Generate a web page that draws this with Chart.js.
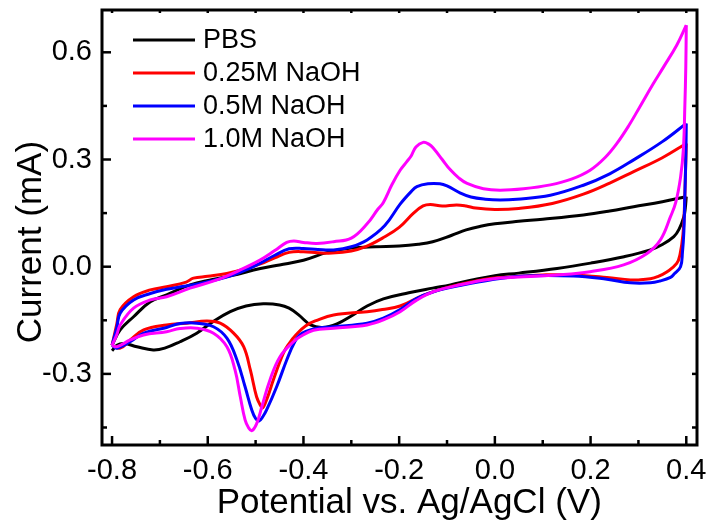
<!DOCTYPE html>
<html>
<head>
<meta charset="utf-8">
<script src="https://cdn.jsdelivr.net/npm/chart.js@4/dist/chart.umd.min.js"></script>
<style>
  html, body { margin: 0; padding: 0; background: #fff; }
  #wrap { width: 710px; height: 526px; }
</style>
</head>
<body>
<div id="wrap"><canvas id="c" width="710" height="526"></canvas></div>
<script>
// ---------- DATA ----------
const seriesLabels = ['PBS', '0.25M NaOH', '0.5M NaOH', '1.0M NaOH'];
const seriesColors = ['#000000', '#ff0000', '#0000ff', '#ff00ff'];
const xTitle = 'Potential vs. Ag/AgCl (V)';
const yTitle = 'Current (mA)';

const xTickValues = [-0.8, -0.6, -0.4, -0.2, 0.0, 0.2, 0.4];
const xMinorTicks = [-0.7, -0.5, -0.3, -0.1, 0.1, 0.3];
const yTickValues = [-0.3, 0.0, 0.3, 0.6];
const yMinorTicks = [-0.45, -0.15, 0.15, 0.45];

// [potential V, current mA] - forward (anodic) scan
const pbsForward = [[-0.80,-0.22],[-0.783,-0.177],[-0.755,-0.14],[-0.72,-0.098],[-0.686,-0.079],[-0.637,-0.051],[-0.59,-0.036],[-0.55,-0.025],[-0.49,-0.005],[-0.45,0.005],[-0.40,0.018],[-0.35,0.04],[-0.30,0.052],[-0.25,0.056],[-0.20,0.058],[-0.16,0.063],[-0.13,0.07],[-0.09,0.088],[-0.06,0.103],[-0.03,0.113],[0.00,0.12],[0.05,0.127],[0.10,0.133],[0.185,0.145],[0.24,0.156],[0.29,0.168],[0.35,0.182],[0.40,0.196]];
// reverse (cathodic) scan
const pbsReverse = [[0.40,0.196],[0.398,0.165],[0.395,0.14],[0.385,0.105],[0.374,0.084],[0.35,0.062],[0.325,0.047],[0.27,0.028],[0.20,0.01],[0.13,-0.005],[0.05,-0.018],[0.0,-0.025],[-0.05,-0.038],[-0.093,-0.051],[-0.13,-0.06],[-0.18,-0.073],[-0.233,-0.09],[-0.267,-0.11],[-0.30,-0.138],[-0.33,-0.16],[-0.36,-0.17],[-0.385,-0.163],[-0.41,-0.135],[-0.43,-0.116],[-0.45,-0.107],[-0.484,-0.104],[-0.52,-0.11],[-0.553,-0.126],[-0.59,-0.155],[-0.623,-0.186],[-0.658,-0.21],[-0.69,-0.228],[-0.714,-0.233],[-0.748,-0.224],[-0.775,-0.215],[-0.79,-0.22],[-0.80,-0.235]];

const redForward = [[-0.80,-0.22],[-0.79,-0.16],[-0.783,-0.12],[-0.755,-0.084],[-0.72,-0.065],[-0.686,-0.056],[-0.645,-0.043],[-0.63,-0.032],[-0.60,-0.027],[-0.56,-0.019],[-0.52,-0.005],[-0.49,0.008],[-0.46,0.025],[-0.43,0.04],[-0.40,0.042],[-0.37,0.039],[-0.34,0.038],[-0.30,0.044],[-0.27,0.056],[-0.235,0.08],[-0.20,0.11],[-0.17,0.15],[-0.15,0.17],[-0.135,0.174],[-0.11,0.17],[-0.08,0.173],[-0.06,0.17],[-0.04,0.164],[0.0,0.16],[0.05,0.163],[0.12,0.177],[0.185,0.203],[0.24,0.234],[0.29,0.266],[0.35,0.305],[0.40,0.345]];
const redReverse = [[0.40,0.345],[0.398,0.25],[0.396,0.16],[0.393,0.09],[0.387,0.035],[0.38,0.009],[0.36,-0.014],[0.34,-0.028],[0.325,-0.034],[0.30,-0.037],[0.283,-0.037],[0.234,-0.03],[0.164,-0.023],[0.10,-0.023],[0.06,-0.026],[-0.01,-0.033],[-0.05,-0.043],[-0.093,-0.056],[-0.15,-0.08],[-0.198,-0.11],[-0.235,-0.12],[-0.267,-0.126],[-0.337,-0.135],[-0.372,-0.15],[-0.395,-0.165],[-0.415,-0.19],[-0.43,-0.215],[-0.442,-0.242],[-0.463,-0.317],[-0.475,-0.365],[-0.485,-0.395],[-0.49,-0.388],[-0.498,-0.364],[-0.511,-0.289],[-0.525,-0.224],[-0.546,-0.186],[-0.574,-0.158],[-0.602,-0.152],[-0.644,-0.158],[-0.686,-0.163],[-0.734,-0.177],[-0.762,-0.205],[-0.783,-0.228],[-0.80,-0.22]];

const blueForward = [[-0.80,-0.22],[-0.79,-0.17],[-0.783,-0.13],[-0.755,-0.093],[-0.72,-0.075],[-0.686,-0.063],[-0.65,-0.055],[-0.616,-0.047],[-0.58,-0.036],[-0.546,-0.023],[-0.51,-0.003],[-0.49,0.01],[-0.46,0.032],[-0.43,0.05],[-0.40,0.051],[-0.37,0.048],[-0.337,0.047],[-0.30,0.056],[-0.267,0.075],[-0.23,0.115],[-0.198,0.175],[-0.175,0.21],[-0.163,0.224],[-0.14,0.232],[-0.115,0.232],[-0.10,0.226],[-0.072,0.206],[-0.05,0.195],[-0.02,0.189],[0.011,0.187],[0.046,0.189],[0.116,0.2],[0.185,0.228],[0.24,0.26],[0.29,0.299],[0.35,0.35],[0.40,0.401]];
const blueReverse = [[0.40,0.401],[0.399,0.3],[0.397,0.2],[0.395,0.1],[0.392,0.04],[0.388,0.0],[0.375,-0.02],[0.367,-0.03],[0.345,-0.04],[0.325,-0.045],[0.283,-0.045],[0.234,-0.035],[0.164,-0.026],[0.06,-0.026],[-0.01,-0.037],[-0.07,-0.052],[-0.128,-0.07],[-0.165,-0.09],[-0.198,-0.12],[-0.233,-0.144],[-0.267,-0.158],[-0.337,-0.168],[-0.379,-0.174],[-0.407,-0.19],[-0.42,-0.215],[-0.435,-0.261],[-0.456,-0.336],[-0.477,-0.401],[-0.485,-0.42],[-0.493,-0.432],[-0.50,-0.425],[-0.508,-0.401],[-0.522,-0.336],[-0.539,-0.261],[-0.56,-0.2],[-0.588,-0.168],[-0.623,-0.158],[-0.658,-0.159],[-0.686,-0.17],[-0.734,-0.186],[-0.762,-0.21],[-0.79,-0.228],[-0.80,-0.22]];

const magentaForward = [[-0.80,-0.22],[-0.79,-0.19],[-0.783,-0.163],[-0.755,-0.116],[-0.72,-0.093],[-0.686,-0.084],[-0.637,-0.06],[-0.581,-0.037],[-0.532,-0.009],[-0.49,0.019],[-0.46,0.045],[-0.435,0.068],[-0.42,0.072],[-0.40,0.068],[-0.372,0.065],[-0.337,0.07],[-0.30,0.08],[-0.267,0.12],[-0.245,0.16],[-0.233,0.18],[-0.215,0.23],[-0.198,0.27],[-0.184,0.294],[-0.175,0.31],[-0.165,0.335],[-0.15,0.348],[-0.138,0.343],[-0.128,0.331],[-0.11,0.3],[-0.093,0.271],[-0.075,0.248],[-0.058,0.233],[-0.024,0.218],[0.011,0.214],[0.06,0.218],[0.116,0.229],[0.16,0.245],[0.199,0.27],[0.23,0.305],[0.255,0.345],[0.28,0.395],[0.304,0.45],[0.33,0.51],[0.353,0.56],[0.38,0.62],[0.40,0.676]];
const magentaReverse = [[0.40,0.676],[0.399,0.56],[0.397,0.45],[0.394,0.33],[0.388,0.25],[0.378,0.18],[0.367,0.14],[0.346,0.075],[0.318,0.037],[0.269,0.005],[0.199,-0.014],[0.13,-0.023],[0.06,-0.028],[-0.01,-0.035],[-0.07,-0.05],[-0.128,-0.07],[-0.165,-0.095],[-0.198,-0.126],[-0.233,-0.149],[-0.267,-0.163],[-0.337,-0.172],[-0.379,-0.178],[-0.407,-0.196],[-0.421,-0.21],[-0.449,-0.252],[-0.47,-0.317],[-0.487,-0.392],[-0.498,-0.44],[-0.508,-0.459],[-0.515,-0.45],[-0.522,-0.429],[-0.532,-0.364],[-0.543,-0.289],[-0.56,-0.224],[-0.588,-0.186],[-0.623,-0.172],[-0.658,-0.173],[-0.686,-0.182],[-0.734,-0.191],[-0.762,-0.205],[-0.79,-0.224],[-0.80,-0.22]];

// ---------- CHART ----------
const FONT = "'Liberation Sans', Arial, Helvetica, sans-serif";
Chart.defaults.font.family = FONT;
Chart.defaults.color = '#000';

const branches = [
  [pbsForward, pbsReverse],
  [redForward, redReverse],
  [blueForward, blueReverse],
  [magentaForward, magentaReverse]
];
const toPts = arr => arr.map(p => ({x: p[0], y: p[1]}));
const datasets = [];
branches.forEach((pair, i) => {
  pair.forEach((arr, j) => {
    datasets.push({
      label: seriesLabels[i],
      data: toPts(arr),
      borderColor: seriesColors[i],
      backgroundColor: seriesColors[i],
      borderWidth: 3,
      pointRadius: 0,
      showLine: true,
      tension: 0.4,
      fill: false,
      order: 3 - i,
      isLegend: j === 0,
      seriesIndex: i
    });
  });
});

function line(ctx, x1, y1, x2, y2) {
  ctx.beginPath(); ctx.moveTo(x1, y1); ctx.lineTo(x2, y2); ctx.stroke();
}

const framePlugin = {
  id: 'frame',
  afterDraw(chart) {
    const {ctx, chartArea: a, scales: {x, y}} = chart;
    ctx.save();
    ctx.strokeStyle = '#000';
    ctx.lineCap = 'butt';
    ctx.lineWidth = 2.5;
    xTickValues.forEach(v => {
      const px = x.getPixelForValue(v);
      line(ctx, px, a.bottom, px, a.bottom - 9);
      line(ctx, px, a.top, px, a.top + 3);
    });
    xMinorTicks.forEach(v => {
      const px = x.getPixelForValue(v);
      line(ctx, px, a.bottom, px, a.bottom - 5);
      line(ctx, px, a.top, px, a.top + 3);
    });
    yTickValues.forEach(v => {
      const py = y.getPixelForValue(v);
      line(ctx, a.left, py, a.left + 9, py);
      line(ctx, a.right, py, a.right - 5, py);
    });
    yMinorTicks.forEach(v => {
      const py = y.getPixelForValue(v);
      line(ctx, a.left, py, a.left + 5, py);
      line(ctx, a.right, py, a.right - 5, py);
    });
    ctx.lineWidth = 3;
    ctx.strokeRect(a.left, a.top, a.right - a.left, a.bottom - a.top);
    ctx.restore();
  }
};

const legendPlugin = {
  id: 'insideLegend',
  afterDatasetsDraw(chart) {
    const ctx = chart.ctx;
    ctx.save();
    ctx.font = "27px " + FONT;
    ctx.textBaseline = 'middle';
    ctx.textAlign = 'left';
    const rows = [40, 73, 106, 139];
    chart.data.datasets.filter(d => d.isLegend).forEach(d => {
      const ry = rows[d.seriesIndex];
      ctx.strokeStyle = d.borderColor;
      ctx.lineWidth = 3;
      line(ctx, 133, ry, 195, ry);
      ctx.fillStyle = '#000';
      ctx.fillText(d.label, 203, ry + 1);
    });
    ctx.restore();
  }
};

new Chart(document.getElementById('c'), {
  type: 'scatter',
  data: { datasets },
  options: {
    responsive: false,
    animation: false,
    layout: { padding: { top: 10, right: 13, left: 0, bottom: 0 } },
    plugins: { legend: { display: false }, tooltip: { enabled: false } },
    scales: {
      x: {
        type: 'linear',
        min: -0.821,
        max: 0.4224,
        afterBuildTicks: s => { s.ticks = xTickValues.map(v => ({value: v})); },
        afterFit: s => { s.height = 81; s.paddingLeft = 0; s.paddingRight = 0; },
        grid: { display: false, drawTicks: false },
        border: { display: false },
        ticks: {
          autoSkip: false, maxRotation: 0, padding: 9,
          font: { size: 29 }, color: '#000',
          callback: v => Number(v).toFixed(1)
        },
        title: {
          display: true, text: '  ' + xTitle,
          font: { size: 35 }, color: '#000', padding: { top: 0, bottom: 2 }
        }
      },
      y: {
        type: 'linear',
        min: -0.499,
        max: 0.7184,
        afterBuildTicks: s => { s.ticks = yTickValues.map(v => ({value: v})); },
        afterFit: s => { s.width = 102; s.paddingTop = 0; s.paddingBottom = 0; },
        grid: { display: false, drawTicks: false },
        border: { display: false },
        ticks: {
          autoSkip: false, padding: 10,
          font: { size: 29 }, color: '#000',
          callback: v => Number(v).toFixed(1)
        },
        title: {
          display: true, text: yTitle + '   ',
          font: { size: 35 }, color: '#000', padding: { top: 10, bottom: 0 }
        }
      }
    }
  },
  plugins: [framePlugin, legendPlugin]
});
</script>
</body>
</html>
